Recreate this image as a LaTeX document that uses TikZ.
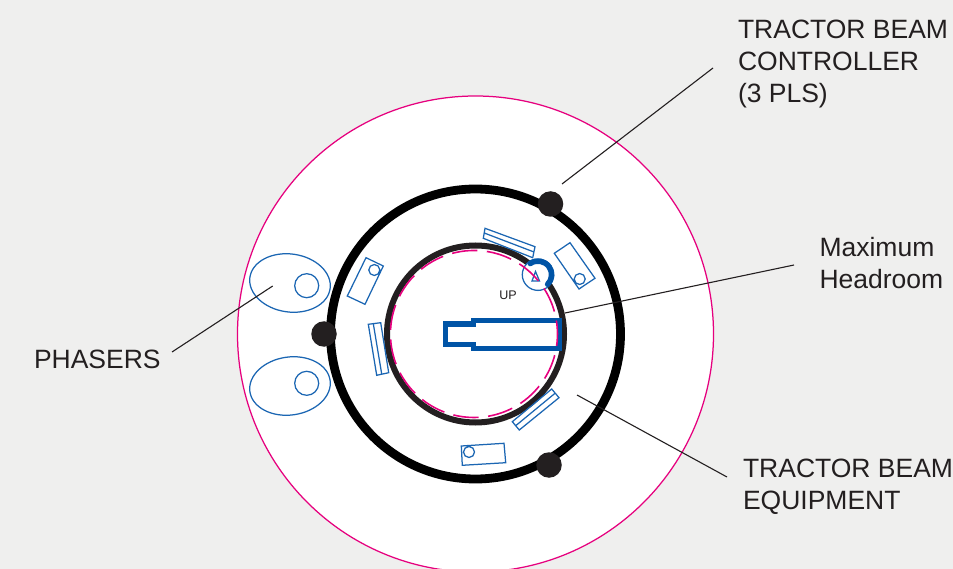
\documentclass[tikz,border=0pt]{standalone}
\usepackage{fontspec}
\setmainfont{Liberation Sans}
\definecolor{bgc}{HTML}{EFEFEE}
\definecolor{pinkc}{HTML}{E6007E}
\definecolor{bluec}{HTML}{0054A6}
\definecolor{thinb}{HTML}{1B66B3}
\definecolor{darkc}{HTML}{231F20}
\tikzset{
  lbl/.style={inner sep=0pt,outer sep=0pt,anchor=north west,align=left,text=darkc,font=\fontsize{26.5}{32}\selectfont},
  thin blue/.style={draw=thinb,line width=1.25pt},
  dot/.style={circle,fill=darkc,inner sep=0pt,minimum size=25.5pt},
  leader/.style={draw=darkc,line width=1.1pt},
}
\begin{document}
\begin{tikzpicture}[x=1pt,y=-1pt]
\useasboundingbox (0,0) rectangle (953,569);
\clip (0,0) rectangle (953,569);
\fill[bgc] (0,0) rectangle (953,569);
\coordinate (c) at (475.5,334);
\coordinate (pc) at (474,334);
% outer pink circle
\draw[pinkc,fill=white,line width=1.25pt] (c) circle[radius=238];
% rings
\draw[black,line width=8.8pt] (c) circle[radius=145];
\draw[darkc,line width=6pt] (c) circle[radius=88.5];
% phasers
\draw[thin blue,rotate around={-8:(290,283)}] (290,283) ellipse[x radius=40.5,y radius=29];
\draw[thin blue] (306.7,285.7) circle[radius=12];
\draw[thin blue,rotate around={8:(290,386)}] (290,386) ellipse[x radius=40.5,y radius=29];
\draw[thin blue] (306.7,383.3) circle[radius=12];
% boxes
\draw[thin blue] (485,228.3) -- (535,246.7) -- (532.7,257.7) -- (483.3,238.3) -- cycle (484.2,233) -- (534,252);
\draw[thin blue] (570,242.7) -- (595,278.3) -- (579,289) -- (554.3,253.3) -- cycle (579.7,279) circle[radius=5.5];
\draw[thin blue] (366,257.7) -- (383.3,266) -- (365,304.3) -- (347.3,296) -- cycle (374.3,270) circle[radius=5.5];
\draw[thin blue] (368.3,324.3) -- (380.7,322.7) -- (388.7,372.7) -- (376.7,375.3) -- cycle (373.3,323.7) -- (381.7,374);
\draw[thin blue] (551.7,389) -- (559,397.7) -- (519.3,430) -- (512.3,421.7) -- cycle (555,393.3) -- (515.7,425.7);
\draw[thin blue] (461.3,446) -- (504,443.3) -- (505.7,462.7) -- (462.3,465.3) -- cycle (469,452) circle[radius=5.5];
% UP marker
\coordinate (upc) at (538,274.7);
\draw[thin blue,fill=white] (upc) circle[radius=15.7];
\draw[bluec,line width=5.5pt,line cap=round] (upc) ++(-125:13.6) arc[start angle=-125,end angle=45,radius=13.6];
\draw[thin blue] (535.5,271.5) -- (539.5,281) -- (532,281) -- cycle;
% housing
\draw[bluec,line width=5pt,miter limit=10] (445.5,324) -- (473,324) -- (473,320.5) -- (559.5,320.5) -- (559.5,348) -- (473,348) -- (473,344.5) -- (445.5,344.5) -- cycle;
% pink dashed
\draw[pinkc,line width=1.6pt,dash pattern=on 25.5pt off 9.5pt,rotate around={9.3:(pc)}] (pc) circle[radius=83.5];
% dots
\node[dot] (d1) at (550.5,204) {};
\node[dot] (d2) at (549,465) {};
\node[dot] (d3) at (324,334) {};
% labels
\node[lbl] (tbc) at (738,19.5) {TRACTOR BEAM\\CONTROLLER\\(3 PLS)};
\node[lbl] (mh) at (819.5,236.8) {Maximum\\Headroom};
\node[lbl] (ph) at (34,350) {PHASERS};
\node[lbl] (tbe) at (743,458.5) {TRACTOR BEAM\\EQUIPMENT};
\node[inner sep=0pt,text=darkc,font=\fontsize{12.5}{14}\selectfont,anchor=base] (up) at (508,300) {UP};
% leaders
\coordinate (a1) at (562,184); \coordinate (a2) at (713,68);
\coordinate (b1) at (172,352); \coordinate (b2) at (272.7,286);
\coordinate (m1) at (565,313); \coordinate (m2) at (794,265);
\coordinate (e1) at (577,395); \coordinate (e2) at (727,477);
\draw[leader] (a1) -- (a2);
\draw[leader] (b1) -- (b2);
\draw[leader] (m1) -- (m2);
\draw[leader] (e1) -- (e2);
\end{tikzpicture}
\end{document}
